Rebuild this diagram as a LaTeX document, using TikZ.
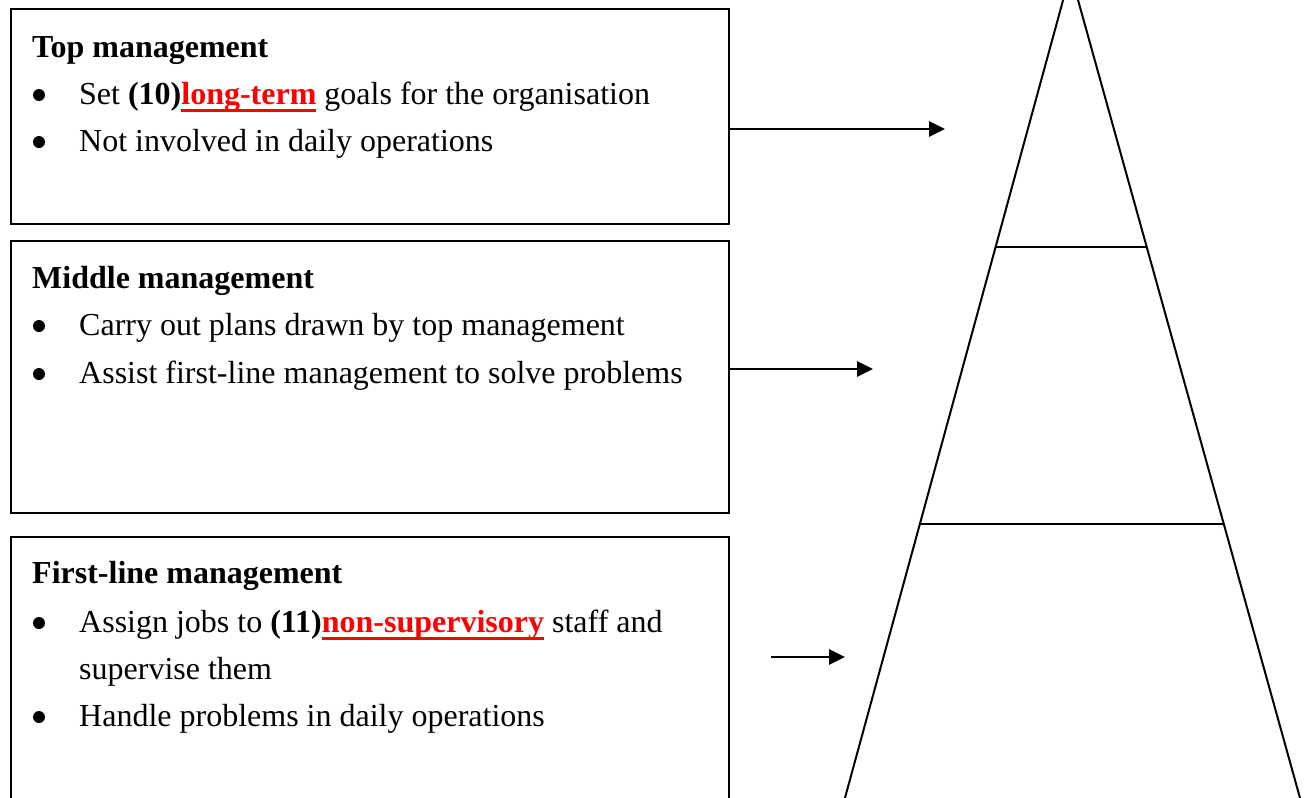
\documentclass[tikz,border=0pt]{standalone}
\usepackage{fontspec}
\setmainfont{Liberation Serif}
\usetikzlibrary{arrows.meta}
\definecolor{ulred}{RGB}{255,0,0}
% bold red word with a thick underline
\newcommand\markedword[1]{{\color{ulred}\bfseries\setbox0\hbox{#1}\rlap{\rule[-8pt]{\wd0}{3pt}}\box0}}

\begin{document}
\begin{tikzpicture}[x={(1pt,0pt)}, y={(0pt,-1pt)},
  box/.style={draw, line width=2.2pt, rectangle, inner sep=0pt, outer sep=0pt, anchor=north west},
  txt/.style={anchor=base west, inner sep=0pt, font=\fontsize{32}{48}\selectfont},
  head/.style={anchor=base west, inner sep=0pt, font=\fontsize{32}{48}\selectfont\bfseries},
  bul/.style={circle, fill, inner sep=0pt, minimum size=12pt},
  arr/.style={line width=2.7pt, -{Triangle[length=16pt,width=15pt]}},
  edge/.style={line width=2pt}]

\useasboundingbox (0,0) rectangle (1310,798);
\clip (0,0) rectangle (1310,798);

% ---- description boxes ----
\node[box, minimum width=718pt, minimum height=215pt] (topbox) at (11,9) {};
\node[box, minimum width=718pt, minimum height=272pt] (midbox) at (11,241) {};
\node[box, minimum width=718pt, minimum height=293pt] (firstbox) at (11,537) {};

% top management
\node[head] (tophead) at (32,57) {Top management};
\node[bul] (topbulA) at (39,95) {};
\node[txt] (toplineA) at (79,104) {Set \textbf{(10)}\markedword{long-term} goals for the organisation};
\node[bul] (topbulB) at (39,142) {};
\node[txt] (toplineB) at (79,151) {Not involved in daily operations};

% middle management
\node[head] (midhead) at (32,288) {Middle management};
\node[bul] (midbulA) at (39,326) {};
\node[txt] (midlineA) at (79,335) {Carry out plans drawn by top management};
\node[bul] (midbulB) at (39,374) {};
\node[txt] (midlineB) at (79,383) {Assist first-line management to solve problems};

% first-line management
\node[head] (firsthead) at (32,583) {First-line management};
\node[bul] (firstbulA) at (39,623) {};
\node[txt] (firstlineA) at (79,632) {Assign jobs to \textbf{(11)}\markedword{non-supervisory} staff and};
\node[txt] (firstlineAA) at (79,679) {supervise them};
\node[bul] (firstbulB) at (39,717) {};
\node[txt] (firstlineB) at (79,726) {Handle problems in daily operations};

% ---- pyramid ----
\coordinate (apex) at (1070.5,-27);
\coordinate (baseL) at (836.2,830);
\coordinate (baseR) at (1308.9,830);
\coordinate (lvlAL) at (995.5,247);
\coordinate (lvlAR) at (1146.7,247);
\coordinate (lvlBL) at (919.8,524);
\coordinate (lvlBR) at (1223.8,524);
\draw[edge, line join=miter] (baseL) -- (apex) -- (baseR);
\draw[edge] (lvlAL) -- (lvlAR);
\draw[edge] (lvlBL) -- (lvlBR);

% ---- arrows ----
\coordinate (tipTop) at (945,129);
\coordinate (tipMid) at (873,369);
\coordinate (tailFirst) at (771,657);
\coordinate (tipFirst) at (845,657);
\draw[arr] (topbox.east |- tipTop) -- (tipTop);
\draw[arr] (midbox.east |- tipMid) -- (tipMid);
\draw[arr] (tailFirst) -- (tipFirst);
\end{tikzpicture}
\end{document}
